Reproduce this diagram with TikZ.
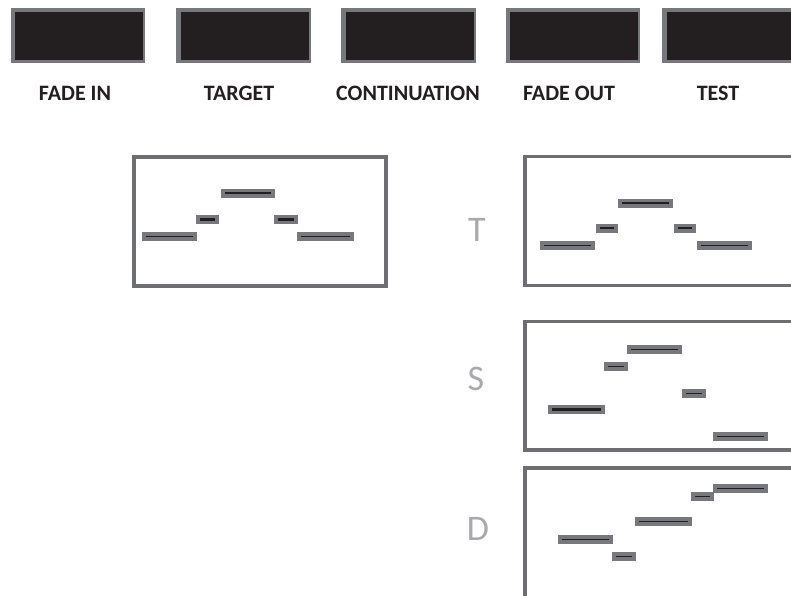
\documentclass[tikz,border=0pt]{standalone}
\usepackage{fontspec}
\setmainfont{Carlito}
\definecolor{boxblack}{HTML}{231F20}
\definecolor{rimgray}{HTML}{77787B}
\definecolor{framegray}{HTML}{6D6E71}
\definecolor{bargray}{HTML}{77787B}
\definecolor{lettergray}{HTML}{A7A9AC}
\tikzset{
  frame/.style={draw=framegray, line width=3.8pt},
  barfill/.style={fill=bargray},
  barline/.style={draw=boxblack, line width=1.1pt},
  barlinethick/.style={draw=boxblack, line width=2.6pt},
  toplabel/.style={font=\bfseries\fontsize{22}{24}\selectfont, text=boxblack, inner sep=0pt},
  sidelabel/.style={font=\fontsize{36}{38}\selectfont, text=lettergray, inner sep=0pt}
}
\newcommand\topbox[1]{%
  \fill[rimgray] (#1,8) rectangle ++(134.5,55);
  \fill[boxblack] ({#1+4.5},11.5) rectangle ({#1+132.5},60);
}
\newcommand\mybar[5][barline]{%
  \fill[barfill] (#2,#3) rectangle (#4,#5);
  \draw[#1] ({#2+4},{(#3+#5)/2}) -- ({#4-4},{(#3+#5)/2});
}
\begin{document}
\begin{tikzpicture}[x=1pt,y=-1pt]
\useasboundingbox (0,0) rectangle (791,595);
\clip (0,0) rectangle (791,595);
% top boxes
\topbox{10.5}
\topbox{176}
\topbox{341}
\topbox{505.5}
\topbox{662}
\node[toplabel] (l1) at (75,93) {FADE IN};
\node[toplabel] (l2) at (239,93) {TARGET};
\node[toplabel] (l3) at (408,93) {CONTINUATION};
\node[toplabel] (l4) at (569,93) {FADE OUT};
\node[toplabel] (l5) at (718,93) {TEST};
% left frame
\draw[frame] (134,157) rectangle (386,286);
\mybar[barline]{142}{232}{197}{241}
\mybar[barlinethick]{196}{215}{219}{224}
\mybar[barline]{221}{188.5}{275}{197.5}
\mybar[barlinethick]{274}{215}{298}{224}
\mybar[barline]{297}{232}{354}{241}
% T frame
\draw[frame] (800,156.5) -- (525,156.5) -- (525,285.5) -- (800,285.5);
\node[sidelabel] (T) at (477,230) {T};
\mybar[barline]{618}{198.5}{673}{207.5}
\mybar[barline]{596}{223.5}{618}{232.5}
\mybar[barline]{674}{223.5}{696}{232.5}
\mybar[barline]{540}{241}{595}{250}
\mybar[barline]{697}{241}{752}{250}
% S frame
\draw[frame] (800,321.5) -- (525,321.5) -- (525,450) -- (800,450);
\node[sidelabel] (S) at (476,379) {S};
\mybar[barline]{627}{345}{682}{354}
\mybar[barline]{604}{362}{628}{371}
\mybar[barline]{682}{389}{706}{398}
\mybar[barlinethick]{548}{405}{605}{414}
\mybar[barline]{713}{432}{768}{441}
% D frame
\draw[frame] (800,468) -- (525,468) -- (525,600);
\node[sidelabel] (D) at (478,529) {D};
\mybar[barline]{713}{484}{768}{493}
\mybar[barline]{691}{492}{714}{501}
\mybar[barline]{635}{517}{692}{526}
\mybar[barline]{558}{535}{613}{544}
\mybar[barline]{612}{552}{636}{561}
\end{tikzpicture}
\end{document}
